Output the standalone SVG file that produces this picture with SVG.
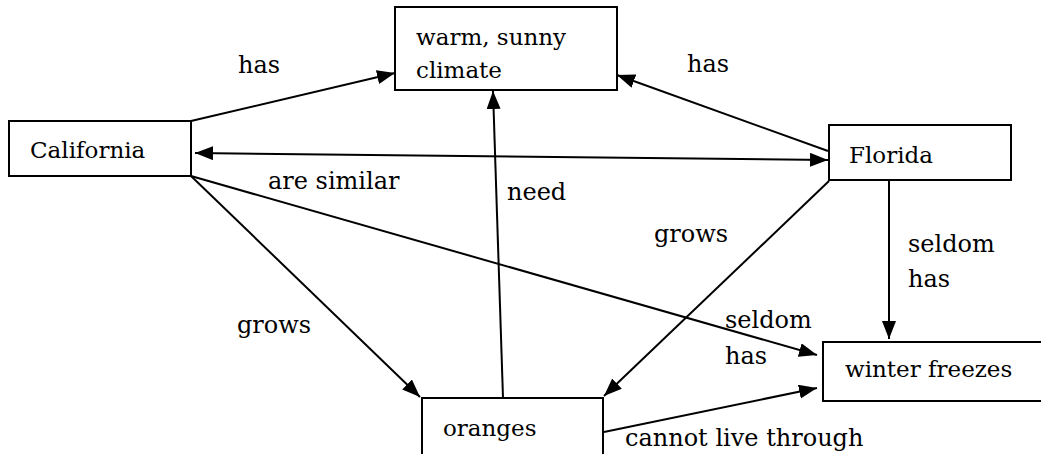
<svg xmlns="http://www.w3.org/2000/svg" width="1041" height="454" viewBox="0 0 1041 454">
  <style>
    .box { fill: #fff; stroke: #000; stroke-width: 2; }
    .node-text { font-family: "DejaVu Serif", serif; font-size: 23px; fill: #000; }
    .label { font-family: "DejaVu Serif", serif; font-size: 24px; fill: #000; }
    .edge { fill: none; stroke: #000; stroke-width: 2; }
  </style>
  <defs>
    <marker id="arrow" markerUnits="userSpaceOnUse" markerWidth="19" markerHeight="15" refX="18" refY="7" orient="auto-start-reverse">
      <path d="M0,0 L18,7 L0,14 z" fill="#000"/>
    </marker>
  </defs>
  <rect width="1041" height="454" fill="#fff"/>

  <!-- connectors -->
  <g id="connectors">
    <line class="edge" x1="191" y1="121" x2="395" y2="73" marker-end="url(#arrow)"/>
    <line class="edge" x1="828" y1="151" x2="617" y2="75" marker-end="url(#arrow)"/>
    <line class="edge" x1="195" y1="153" x2="828" y2="160" marker-start="url(#arrow)" marker-end="url(#arrow)"/>
    <line class="edge" x1="191" y1="176" x2="817" y2="355" marker-end="url(#arrow)"/>
    <line class="edge" x1="191" y1="176" x2="420" y2="397" marker-end="url(#arrow)"/>
    <line class="edge" x1="503" y1="398" x2="493" y2="91" marker-end="url(#arrow)"/>
    <line class="edge" x1="829" y1="181" x2="604" y2="396" marker-end="url(#arrow)"/>
    <line class="edge" x1="889" y1="181" x2="889" y2="339" marker-end="url(#arrow)"/>
    <line class="edge" x1="604" y1="432" x2="817" y2="388" marker-end="url(#arrow)"/>
  </g>

  <!-- connector labels -->
  <g id="labels">
    <text class="label" x="238" y="73">has</text>
    <text class="label" x="687" y="72">has</text>
    <text class="label" x="268" y="189">are similar</text>
    <text class="label" x="507" y="200">need</text>
    <text class="label" x="654" y="242">grows</text>
    <text class="label" x="237" y="333">grows</text>
    <text class="label" x="908" y="252">seldom</text>
    <text class="label" x="908" y="287">has</text>
    <text class="label" x="725" y="328">seldom</text>
    <text class="label" x="725" y="364">has</text>
    <text class="label" x="625" y="446">cannot live through</text>
  </g>

  <!-- nodes -->
  <g id="climate">
    <rect class="box" x="395" y="7" width="222" height="83"/>
    <text class="node-text" x="416" y="45">warm, sunny</text>
    <text class="node-text" x="416" y="78">climate</text>
  </g>
  <g id="california">
    <rect class="box" x="9" y="121" width="182" height="55"/>
    <text class="node-text" x="30" y="158">California</text>
  </g>
  <g id="florida">
    <rect class="box" x="829" y="125" width="182" height="55"/>
    <text class="node-text" x="849" y="163">Florida</text>
  </g>
  <g id="winter-freezes">
    <rect class="box" x="823" y="342" width="230" height="59"/>
    <text class="node-text" x="845" y="377">winter freezes</text>
  </g>
  <g id="oranges">
    <rect class="box" x="422" y="398" width="181" height="70"/>
    <text class="node-text" x="443" y="436">oranges</text>
  </g>
</svg>
